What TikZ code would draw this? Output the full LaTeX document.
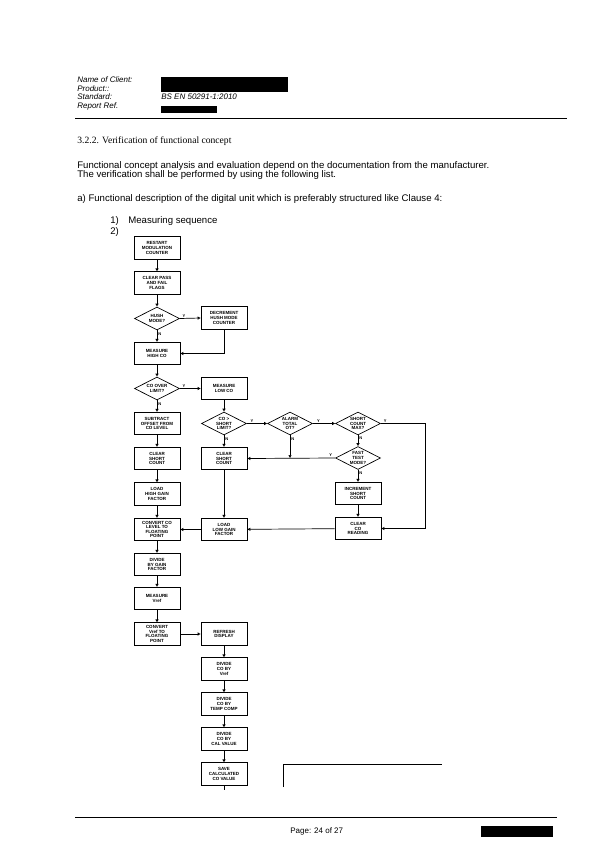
\documentclass[tikz,border=0pt]{standalone}
\usepackage{fontspec}
\setmainfont{Liberation Sans}
\newfontfamily\serifhead{Liberation Serif}
\usetikzlibrary{arrows.meta}
\usetikzlibrary{shapes.geometric}
\newcommand\flowfont{\fontsize{4.5}{4.6}\selectfont\bfseries}
\def\colA{157}
\def\colB{224}
\def\colC{290}
\def\colD{358}
\def\rightRail{425}

\begin{document}
\begin{tikzpicture}[
    x=1pt, y=-1pt,
    arrowtip/.style={
      -{Triangle[open,length=3pt,width=3pt]}
    },
    flowtext/.style={font=\flowfont, align=center, inner sep=0pt},
    stepbox/.style={
      draw, line width=0.7pt, minimum width=46pt, minimum height=22.5pt,
      inner sep=0pt, flowtext
    },
    decision/.style={
      draw, diamond, line width=0.7pt, minimum width=45pt, minimum height=23pt,
      inner sep=0pt, label={[flowtext]center:{#1}}
    },
    yn/.style={font=\fontsize{4}{4}\selectfont\bfseries, inner sep=1pt},
    headtext/.style={anchor=base west, font=\fontsize{8}{9}\selectfont\itshape, inner sep=0pt},
    bodytext/.style={anchor=base west, font=\fontsize{9.6}{10}\selectfont, inner sep=0pt},
    every path/.style={line width=0.7pt}
  ]
    \useasboundingbox (0,0) rectangle (600,848);

    \node[headtext] (Client) at (77,83) {Name of Client:};
    \node[headtext] (Product) at (77,91.5) {Product::};
    \node[headtext] (Standard) at (77,100) {Standard:};
    \node[headtext] (Report) at (77,108.5) {Report Ref.};
    \node[headtext] (StdValue) at (161,100) {BS EN 50291-1:2010};
    \fill[black] (161,77) rectangle (288,92);
    \fill[black] (161,106) rectangle (217,113);
    \draw[line width=0.8pt] (75,118) -- (567,118);

    \node[anchor=base west, inner sep=0pt, font=\fontsize{9.6}{10}\serifhead] (Section) at (77,143)
      {3.2.2. Verification of functional concept};
    \node[bodytext] (IntroA) at (77,168)
      {Functional concept analysis and evaluation depend on the documentation from the manufacturer.};
    \node[bodytext] (IntroB) at (77,177.5) {The verification shall be performed by using the following list.};
    \node[bodytext] (ItemA) at (77,201)
      {a) Functional description of the digital unit which is preferably structured like Clause 4:};
    \node[bodytext] (NumOne) at (110,223) {1)};
    \node[bodytext] (Measuring) at (128,223) {Measuring sequence};
    \node[bodytext] (NumTwo) at (110,234) {2)};

    \node[stepbox] (Restart) at (\colA,248) {RESTART\\MODULATION\\COUNTER};
    \node[stepbox] (ClearFlags) at (\colA,283) {CLEAR PASS\\AND FAIL\\FLAGS};
    \node[decision={HUSH\\MODE?}] (HushMode) at (\colA,318.5) {};
    \node[stepbox] (Decrement) at (\colB,318) {DECREMENT\\HUSH MODE\\COUNTER};
    \node[stepbox] (MeasureHigh) at (\colA,353.5) {MEASURE\\HIGH CO};
    \node[decision={CO OVER\\LIMIT?}] (OverLimit) at (\colA,388.5) {};
    \node[stepbox] (MeasureLow) at (\colB,388.5) {MEASURE\\LOW CO};
    \node[stepbox] (Subtract) at (\colA,423.5) {SUBTRACT\\OFFSET FROM\\CO LEVEL};
    \node[decision={CO >\\SHORT\\LIMIT?}] (ShortLimit) at (\colB,423.5) {};
    \node[decision={ALARM\\TOTAL\\OT?}] (AlarmTotal) at (\colC,423.5) {};
    \node[decision={SHORT\\COUNT\\MAX?}] (CountMax) at (\colD,423.5) {};
    \node[stepbox] (ClearShortA) at (\colA,458.5) {CLEAR\\SHORT\\COUNT};
    \node[stepbox] (ClearShortB) at (\colB,458.5) {CLEAR\\SHORT\\COUNT};
    \node[decision={FAST\\TEST\\MODE?}] (FastTest) at (\colD,458) {};
    \node[stepbox] (LoadHigh) at (\colA,494) {LOAD\\HIGH GAIN\\FACTOR};
    \node[stepbox] (Increment) at (\colD,493.5) {INCREMENT\\SHORT\\COUNT};
    \node[stepbox] (ConvertCo) at (\colA,529.5) {CONVERT CO\\LEVEL TO\\FLOATING\\POINT};
    \node[stepbox] (LoadLow) at (\colB,529.5) {LOAD\\LOW GAIN\\FACTOR};
    \node[stepbox] (ClearCo) at (\colD,528.5) {CLEAR\\CO\\READING};
    \node[stepbox] (DivGain) at (\colA,564.5) {DIVIDE\\BY GAIN\\FACTOR};
    \node[stepbox] (MeasureVref) at (\colA,598.5) {MEASURE\\Vref};
    \node[stepbox] (ConvertVref) at (\colA,634) {CONVERT\\Vref TO\\FLOATING\\POINT};
    \node[stepbox] (Refresh) at (\colB,634) {REFRESH\\DISPLAY};
    \node[stepbox] (DivVref) at (\colB,669) {DIVIDE\\CO BY\\Vref};
    \node[stepbox] (DivTemp) at (\colB,704) {DIVIDE\\CO BY\\TEMP COMP};
    \node[stepbox] (DivCal) at (\colB,739) {DIVIDE\\CO BY\\CAL VALUE};
    \node[stepbox] (Save) at (\colB,774) {SAVE\\CALCULATED\\CO VALUE};
    \coordinate (SaveOut) at (\colB,790);
    \coordinate (RailTop) at (\rightRail,423.5);

    \draw[arrowtip] (Restart) -- (ClearFlags);
    \draw[arrowtip] (ClearFlags) -- (HushMode);
    \draw[arrowtip] (HushMode.east) -- node[yn, above, pos=0.2] {Y} (Decrement.west);
    \draw[arrowtip] (HushMode.south) -- node[yn, right, pos=0.3] {N} (MeasureHigh.north);
    \draw[arrowtip] (Decrement.south) |- (MeasureHigh.east);
    \draw[arrowtip] (MeasureHigh) -- (OverLimit);
    \draw[arrowtip] (OverLimit.east) -- node[yn, above, pos=0.2] {Y} (MeasureLow.west);
    \draw[arrowtip] (OverLimit.south) -- node[yn, right, pos=0.3] {N} (Subtract.north);
    \draw[arrowtip] (Subtract) -- (ClearShortA);
    \draw[arrowtip] (ClearShortA) -- (LoadHigh);
    \draw[arrowtip] (LoadHigh) -- (ConvertCo);
    \draw[arrowtip] (ConvertCo) -- (DivGain);
    \draw[arrowtip] (DivGain) -- (MeasureVref);
    \draw[arrowtip] (MeasureVref) -- (ConvertVref);
    \draw[arrowtip] (ConvertVref) -- (Refresh);
    \draw[arrowtip] (Refresh) -- (DivVref);
    \draw[arrowtip] (DivVref) -- (DivTemp);
    \draw[arrowtip] (DivTemp) -- (DivCal);
    \draw[arrowtip] (DivCal) -- (Save);
    \draw (Save) -- (SaveOut);

    \draw[arrowtip] (MeasureLow) -- (ShortLimit);
    \draw[arrowtip] (ShortLimit.east) -- node[yn, above, pos=0.25] {Y} (AlarmTotal.west);
    \draw[arrowtip] (ShortLimit.south) -- node[yn, right, pos=0.3] {N} (ClearShortB.north);
    \draw[arrowtip] (AlarmTotal.east) -- node[yn, above, pos=0.25] {Y} (CountMax.west);
    \draw[arrowtip] (AlarmTotal.south) -- node[yn, right, pos=0.15] {N} (AlarmTotal |- FastTest);
    \draw[arrowtip] (CountMax.south) -- node[yn, right, pos=0.3] {N} (FastTest.north);
    \draw[arrowtip] (CountMax.east) -- node[yn, above, pos=0.1] {Y} (RailTop) |- (ClearCo.east);
    \draw[arrowtip] (FastTest.west) -- node[yn, above, pos=0.05] {Y} (ClearShortB.east);
    \draw[arrowtip] (FastTest.south) -- node[yn, right, pos=0.3] {N} (Increment.north);
    \draw[arrowtip] (Increment) -- (ClearCo);
    \draw[arrowtip] (ClearCo) -- (LoadLow);
    \draw[arrowtip] (ClearShortB) -- (LoadLow);
    \draw[arrowtip] (LoadLow) -- (ConvertCo);

    \draw (283,787) -- (283,764) -- (442,764);

    \draw[line width=0.8pt] (75,817) -- (557,817);
    \node[anchor=base west, inner sep=0pt, font=\fontsize{8}{9}\selectfont] (PageNo) at (290,833) {Page: 24 of 27};
    \fill[black] (481,826) rectangle (553,837);
  \end{tikzpicture}
\end{document}
